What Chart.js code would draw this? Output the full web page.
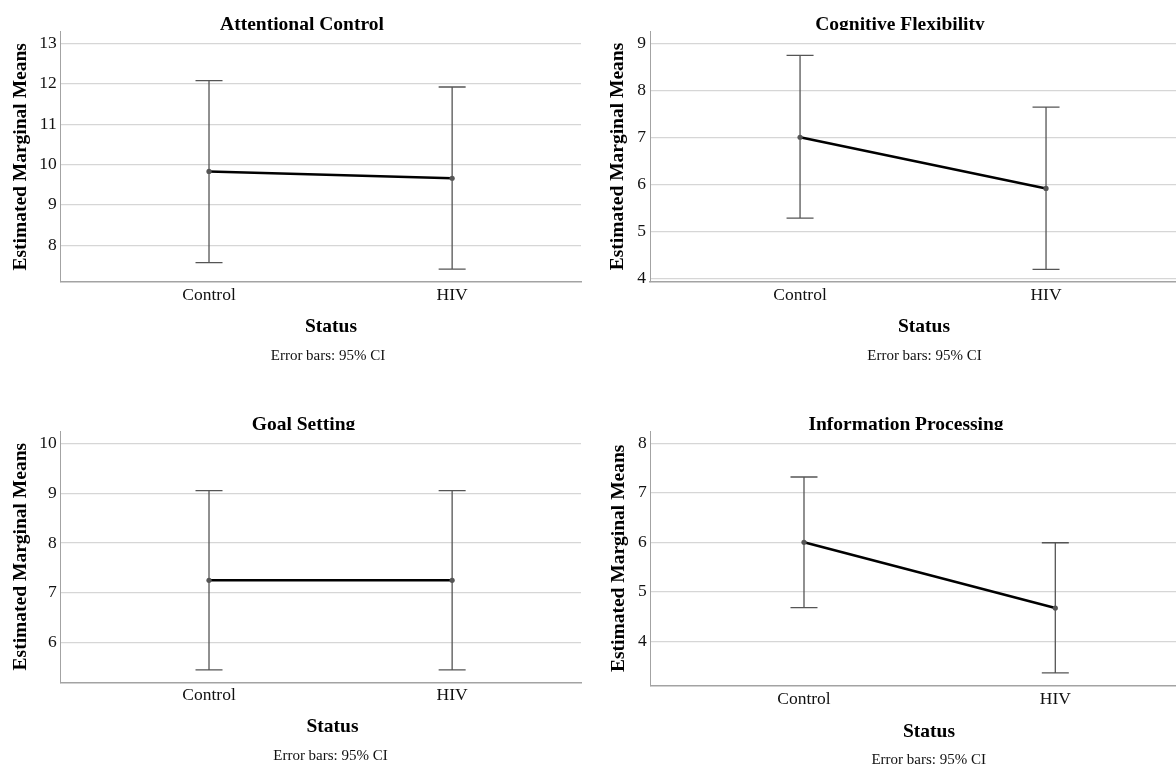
<!DOCTYPE html>
<html>
<head>
<meta charset="utf-8">
<title>Estimated Marginal Means</title>
<script src="https://cdn.jsdelivr.net/npm/chart.js@4.4.1/dist/chart.umd.min.js"></script>
<style>
  html, body { margin: 0; padding: 0; background: #fff; overflow: hidden; }
  body { width: 1176px; height: 765px; position: relative; }
  canvas { position: absolute; }
</style>
</head>
<body>
<canvas id="attentional" width="590" height="380" style="left:0;top:0"></canvas>
<canvas id="flexibility" width="600" height="380" style="left:590px;top:0"></canvas>
<canvas id="goal" width="590" height="365" style="left:0;top:400px"></canvas>
<canvas id="info" width="610" height="365" style="left:590px;top:400px"></canvas>
<script>
// ===== DATA =====
const groups = ['Control', 'HIV'];
const groupPositions = [1, 2];

const attentionalMeans = [9.83, 9.66];
const attentionalLower = [7.57, 7.41];
const attentionalUpper = [12.08, 11.92];
const attentionalTicks = [8, 9, 10, 11, 12, 13];

const flexibilityMeans = [7.0, 5.91];
const flexibilityLower = [5.28, 4.19];
const flexibilityUpper = [8.74, 7.64];
const flexibilityTicks = [4, 5, 6, 7, 8, 9];

const goalMeans = [7.25, 7.25];
const goalLower = [5.45, 5.45];
const goalUpper = [9.05, 9.05];
const goalTicks = [6, 7, 8, 9, 10];

const infoMeans = [6.0, 4.67];
const infoLower = [4.68, 3.36];
const infoUpper = [7.32, 5.99];
const infoTicks = [4, 5, 6, 7, 8];

const yAxisTitle = 'Estimated Marginal Means';
const xAxisTitle = 'Status';
const footNote = 'Error bars: 95% CI';

const SERIF = '"Liberation Serif", "Times New Roman", serif';

// ===== PLUGINS =====
// whiskers for the 95% CI, drawn under the line
const errorBars = {
  id: 'errorBars',
  beforeDatasetsDraw(chart, args, opts) {
    const { ctx, scales: { x, y } } = chart;
    ctx.save();
    ctx.strokeStyle = '#555';
    ctx.lineWidth = 1.3;
    opts.lower.forEach((lo, i) => {
      const px = x.getPixelForValue(groupPositions[i]);
      const top = y.getPixelForValue(opts.upper[i]);
      const bot = y.getPixelForValue(lo);
      ctx.beginPath();
      ctx.moveTo(px, top); ctx.lineTo(px, bot);
      ctx.moveTo(px - 13.5, top); ctx.lineTo(px + 13.5, top);
      ctx.moveTo(px - 13.5, bot); ctx.lineTo(px + 13.5, bot);
      ctx.stroke();
    });
    ctx.restore();
  },
};

// titles and notes in SPSS placement
const panelText = {
  id: 'panelText',
  afterDraw(chart, args, o) {
    const { ctx, chartArea: a } = chart;
    ctx.save();
    ctx.fillStyle = '#000';
    ctx.textAlign = 'center';
    ctx.textBaseline = 'alphabetic';

    // chart title, clipped at the top of the plot like the original
    ctx.save();
    ctx.beginPath();
    ctx.rect(0, 0, chart.width, a.top - 1);
    ctx.clip();
    ctx.font = 'bold 19.5px ' + SERIF;
    ctx.fillText(o.title, o.titleX, 29.5);
    ctx.restore();

    // y axis title
    ctx.save();
    ctx.translate(o.yTitleX, (a.top + a.bottom) / 2);
    ctx.rotate(-Math.PI / 2);
    ctx.font = 'bold 19.5px ' + SERIF;
    ctx.fillText(yAxisTitle, 0, 0);
    ctx.restore();

    ctx.font = 'bold 19.5px ' + SERIF;
    ctx.fillText(xAxisTitle, o.statusX, a.bottom + o.statusDy);
    ctx.font = '15px ' + SERIF;
    ctx.fillStyle = '#111';
    ctx.fillText(footNote, o.noteX, a.bottom + o.noteDy);
    ctx.restore();
  },
};

// ===== BUILD A PANEL =====
function makePanel(id, means, lower, upper, ticks, cfg) {
  const ctx = document.getElementById(id).getContext('2d');
  return new Chart(ctx, {
    type: 'line',
    data: {
      datasets: [
        {
          data: means.map((m, i) => ({ x: groupPositions[i], y: m })),
          borderColor: '#000',
          borderWidth: 2.5,
          pointRadius: 2.6,
          pointBackgroundColor: '#555',
          pointBorderWidth: 0,
          tension: 0,
        },
      ],
    },
    options: {
      responsive: false,
      animation: false,
      layout: { padding: cfg.padding },
      plugins: {
        legend: { display: false },
        tooltip: { enabled: false },
        errorBars: { lower: lower, upper: upper },
        panelText: cfg.text,
      },
      scales: {
        x: {
          type: 'linear',
          min: 0.39,
          max: 2.53,
          afterBuildTicks: (s) => { s.ticks = groupPositions.map((v) => ({ value: v })); },
          afterFit: (s) => { s.height = cfg.xHeight; },
          grid: { display: false, drawTicks: false },
          border: { display: true, color: '#a3a3a3', width: 1.5 },
          ticks: {
            padding: 3,
            color: '#111',
            font: { family: SERIF, size: 17.5 },
            callback: (v) => groups[groupPositions.indexOf(v)],
          },
        },
        y: {
          min: cfg.yMin,
          max: cfg.yMax,
          afterBuildTicks: (s) => { s.ticks = ticks.map((v) => ({ value: v })); },
          afterFit: (s) => { s.width = cfg.yWidth; },
          grid: { color: '#d6d6d6', lineWidth: 1.2, drawTicks: false },
          border: { display: true, color: '#a3a3a3', width: 1 },
          ticks: {
            padding: 4,
            color: '#111',
            font: { family: SERIF, size: 17.5 },
          },
        },
      },
    },
    plugins: [errorBars, panelText],
  });
}

makePanel('attentional', attentionalMeans, attentionalLower, attentionalUpper, attentionalTicks, {
  padding: { left: 0, right: 9, top: 31.7, bottom: 0 },
  yWidth: 60.7, xHeight: 98, yMin: 7.09, yMax: 13.29,
  text: { title: 'Attentional Control', titleX: 302, yTitleX: 25.5,
    statusX: 331, statusDy: 49.7, noteX: 328, noteDy: 78 },
});

makePanel('flexibility', flexibilityMeans, flexibilityLower, flexibilityUpper, flexibilityTicks, {
  padding: { left: 0, right: 13.6, top: 31, bottom: 0 },
  yWidth: 60, xHeight: 98, yMin: 3.92, yMax: 9.26,
  text: { title: 'Cognitive Flexibility', titleX: 310, yTitleX: 33,
    statusX: 334, statusDy: 49.7, noteX: 334.5, noteDy: 78 },
});

makePanel('goal', goalMeans, goalLower, goalUpper, goalTicks, {
  padding: { left: 0, right: 9, top: 31, bottom: 0 },
  yWidth: 60.7, xHeight: 82.7, yMin: 5.2, yMax: 10.25,
  text: { title: 'Goal Setting', titleX: 303.5, yTitleX: 25.5,
    statusX: 332.5, statusDy: 49.7, noteX: 330.5, noteDy: 77.7 },
});

makePanel('info', infoMeans, infoLower, infoUpper, infoTicks, {
  padding: { left: 0, right: 11.5, top: 31, bottom: 0 },
  yWidth: 60.7, xHeight: 79.3, yMin: 3.1, yMax: 8.25,
  text: { title: 'Information Processing', titleX: 316, yTitleX: 33.5,
    statusX: 339, statusDy: 51.6, noteX: 338.7, noteDy: 78.3 },
});
</script>
</body>
</html>
